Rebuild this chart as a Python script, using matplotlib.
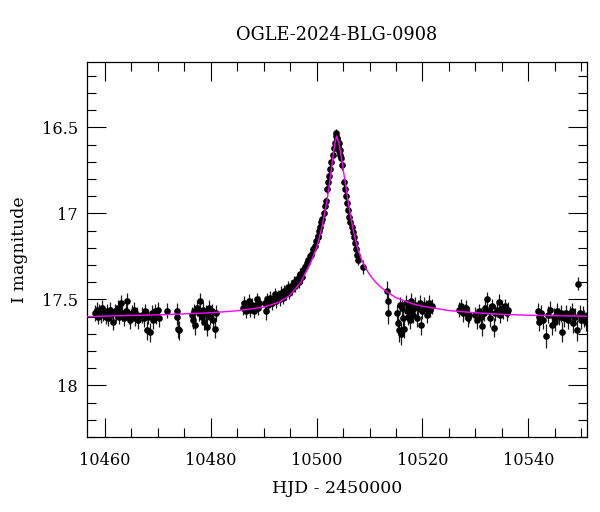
import matplotlib
matplotlib.use("Agg")
import matplotlib.pyplot as plt
from matplotlib.ticker import MultipleLocator, FuncFormatter

title = "OGLE-2024-BLG-0908"
xlabel = "HJD - 2450000"
ylabel = "I magnitude"

hjd = [
    # 10458-10466
    10458.2, 10458.4, 10458.6, 10458.9, 10459.2, 10459.4, 10459.7, 10460.1, 10460.3, 10460.6,
    10461.0, 10461.2, 10461.5, 10461.8, 10462.1, 10462.4, 10462.7, 10463.0, 10463.3, 10463.6,
    10463.9, 10464.2, 10464.5, 10464.8, 10465.1, 10465.4, 10465.7, 10466.0, 10466.3,
    # 10467-10470
    10467.0, 10467.3, 10467.6, 10467.9, 10468.2, 10468.5, 10468.8, 10469.1, 10469.4, 10469.7,
    10470.0, 10470.3,
    10471.8, 10473.6, 10473.7, 10473.8, 10473.9,
    # 10476-10481
    10476.4, 10476.6, 10476.9, 10477.1, 10477.4, 10477.7, 10478.0, 10478.3, 10478.5, 10478.8,
    10479.1, 10479.3, 10479.6, 10479.9, 10480.2, 10480.5, 10480.8, 10481.0,
    # 10486-10489
    10486.0, 10486.3, 10486.6, 10486.9, 10487.2, 10487.5, 10487.8, 10488.1, 10488.4, 10488.7,
    10489.0, 10489.2,
    # 10490-10500
    10490.2, 10490.4, 10490.6, 10490.9, 10491.2, 10491.5, 10491.8, 10492.1, 10492.4, 10492.7,
    10493.0, 10493.3, 10493.6, 10493.9, 10494.2, 10494.5, 10494.8, 10495.1, 10495.4, 10495.7,
    10496.0, 10496.3, 10496.6, 10496.9, 10497.2, 10497.5, 10497.8, 10498.1, 10498.4, 10498.7,
    10499.0, 10499.3, 10499.6, 10499.9, 10500.2,
    # rise to peak
    10500.3, 10500.5, 10500.7, 10500.9, 10501.1, 10501.3, 10501.5, 10501.7, 10502.0, 10502.2,
    10502.4, 10502.6, 10502.8, 10503.0, 10503.2, 10503.4, 10503.6, 10503.7, 10503.8,
    # decline
    10503.9, 10504.0, 10504.1, 10504.2, 10504.3, 10504.4, 10504.5, 10504.6, 10504.8, 10505.2,
    10505.4, 10505.6, 10505.8, 10506.0, 10506.2, 10506.4, 10506.6, 10506.8, 10507.0, 10507.2,
    10507.4, 10507.6, 10507.8, 10508.7,
    # 10513-10522
    10513.3, 10513.4, 10513.5,
    10515.2, 10515.4, 10515.6, 10515.8, 10516.0, 10516.2, 10516.4, 10516.6, 10516.8, 10517.0,
    10517.2, 10517.4, 10517.6, 10517.8, 10518.0, 10518.3, 10518.6, 10518.9, 10519.2, 10519.5,
    10519.7, 10520.0, 10520.3, 10520.6, 10520.9, 10521.2, 10521.5, 10521.8,
    # 10527-10529
    10527.0, 10527.3, 10527.6, 10528.0, 10528.3, 10528.6, 10528.8,
    # 10530-10536
    10530.0, 10530.3, 10530.6, 10531.0, 10531.3, 10531.6, 10531.9, 10532.2, 10532.5, 10532.8,
    10533.1, 10533.5, 10533.8, 10534.1, 10534.4, 10534.7, 10535.0, 10535.3, 10535.6, 10535.9,
    10536.2,
    # 10542-10551
    10541.9, 10542.0, 10542.1, 10542.5, 10542.8, 10543.4, 10543.8, 10544.2, 10544.5, 10544.8,
    10545.1, 10545.4, 10545.8, 10546.1, 10546.4, 10546.8, 10547.1, 10547.5, 10547.8, 10548.2,
    10548.5, 10548.9, 10549.2, 10549.4, 10549.7, 10550.0, 10550.3, 10550.6, 10550.9,
]

imag = [
    17.58, 17.56, 17.60, 17.57, 17.59, 17.55, 17.58, 17.60, 17.57, 17.61,
    17.56, 17.59, 17.63, 17.57, 17.58, 17.55, 17.60, 17.52, 17.58, 17.61,
    17.57, 17.51, 17.60, 17.62, 17.58, 17.56, 17.61, 17.59, 17.62,
    17.59, 17.61, 17.57, 17.68, 17.60, 17.69, 17.58, 17.62, 17.57, 17.60,
    17.56, 17.61,
    17.565, 17.565, 17.60, 17.67, 17.68,
    17.59, 17.62, 17.57, 17.65, 17.55, 17.58, 17.51, 17.60, 17.56, 17.63,
    17.58, 17.66, 17.55, 17.60, 17.57, 17.62, 17.67, 17.58,
    17.55, 17.52, 17.57, 17.54, 17.51, 17.56, 17.53, 17.57, 17.54, 17.50,
    17.55, 17.52,
    17.52, 17.57, 17.50, 17.53, 17.49, 17.52, 17.50, 17.47, 17.51, 17.48,
    17.50, 17.46, 17.49, 17.45, 17.47, 17.43, 17.46, 17.42, 17.44, 17.40,
    17.42, 17.38, 17.40, 17.35, 17.37, 17.33, 17.31, 17.29, 17.27, 17.25,
    17.24, 17.21, 17.19, 17.16, 17.14,
    17.13, 17.10, 17.08, 17.05, 17.03, 17.00, 16.96, 16.93, 16.86, 16.82,
    16.78, 16.74, 16.70, 16.66, 16.62, 16.59, 16.55, 16.53, 16.56,
    16.57, 16.60, 16.62, 16.59, 16.64, 16.66, 16.63, 16.68, 16.72, 16.82,
    16.86, 16.90, 16.94, 16.98, 17.02, 17.05, 17.08, 17.11, 17.14, 17.17,
    17.21, 17.24, 17.27, 17.31,
    17.45, 17.51, 17.58,
    17.58, 17.64, 17.68, 17.53, 17.70, 17.55, 17.61, 17.67, 17.52, 17.57,
    17.60, 17.54, 17.62, 17.51, 17.56, 17.59, 17.53, 17.61, 17.55, 17.52,
    17.65, 17.57, 17.53, 17.55, 17.59, 17.52, 17.56, 17.54,
    17.56, 17.54, 17.58, 17.57, 17.55, 17.61, 17.59,
    17.59, 17.62, 17.57, 17.60, 17.655, 17.58, 17.55, 17.50, 17.57, 17.61,
    17.54, 17.665, 17.58, 17.56, 17.515, 17.59, 17.55, 17.57, 17.54, 17.58,
    17.56,
    17.57, 17.60, 17.63, 17.58, 17.62, 17.715, 17.59, 17.56, 17.65, 17.60,
    17.63, 17.57, 17.60, 17.58, 17.69, 17.61, 17.58, 17.62, 17.59, 17.57,
    17.64, 17.60, 17.68, 17.41, 17.58, 17.62, 17.59, 17.61, 17.63,
]

ierr = [
    0.045, 0.045, 0.045, 0.045, 0.045, 0.045, 0.045, 0.045, 0.045, 0.045,
    0.045, 0.045, 0.05, 0.045, 0.045, 0.045, 0.045, 0.045, 0.045, 0.045,
    0.045, 0.045, 0.045, 0.05, 0.045, 0.045, 0.045, 0.045, 0.05,
    0.045, 0.05, 0.045, 0.055, 0.045, 0.055, 0.045, 0.05, 0.045, 0.045,
    0.045, 0.05,
    0.045, 0.045, 0.05, 0.055, 0.055,
    0.045, 0.05, 0.045, 0.055, 0.045, 0.045, 0.045, 0.05, 0.045, 0.05,
    0.045, 0.055, 0.045, 0.05, 0.045, 0.05, 0.055, 0.045,
    0.04, 0.04, 0.04, 0.04, 0.04, 0.04, 0.04, 0.04, 0.04, 0.04,
    0.04, 0.04,
    0.04, 0.05, 0.04, 0.04, 0.04, 0.04, 0.04, 0.035, 0.04, 0.035,
    0.04, 0.035, 0.035, 0.035, 0.035, 0.035, 0.035, 0.035, 0.035, 0.035,
    0.035, 0.035, 0.035, 0.035, 0.035, 0.035, 0.035, 0.03, 0.03, 0.03,
    0.03, 0.03, 0.03, 0.03, 0.03,
    0.028, 0.028, 0.028, 0.028, 0.028, 0.028, 0.028, 0.028, 0.025, 0.025,
    0.025, 0.025, 0.025, 0.022, 0.022, 0.022, 0.022, 0.022, 0.022,
    0.022, 0.022, 0.022, 0.022, 0.022, 0.022, 0.022, 0.022, 0.025, 0.025,
    0.025, 0.025, 0.025, 0.028, 0.028, 0.028, 0.028, 0.028, 0.03, 0.03,
    0.03, 0.03, 0.032, 0.04,
    0.055, 0.055, 0.065,
    0.05, 0.055, 0.065, 0.045, 0.065, 0.045, 0.05, 0.055, 0.045, 0.045,
    0.05, 0.045, 0.05, 0.045, 0.045, 0.05, 0.045, 0.05, 0.045, 0.045,
    0.055, 0.045, 0.045, 0.045, 0.05, 0.045, 0.045, 0.045,
    0.045, 0.045, 0.05, 0.045, 0.045, 0.05, 0.045,
    0.045, 0.05, 0.045, 0.05, 0.055, 0.045, 0.045, 0.045, 0.045, 0.05,
    0.045, 0.055, 0.045, 0.045, 0.045, 0.05, 0.045, 0.045, 0.045, 0.045,
    0.045,
    0.05, 0.05, 0.055, 0.05, 0.05, 0.07, 0.05, 0.05, 0.055, 0.05,
    0.055, 0.05, 0.05, 0.05, 0.06, 0.05, 0.05, 0.055, 0.05, 0.05,
    0.055, 0.05, 0.06, 0.038, 0.05, 0.055, 0.05, 0.05, 0.055,
]

# model curve
model_t = [10456.6, 10460, 10470, 10480, 10485, 10490, 10493, 10495, 10497, 10498,
           10499, 10500, 10501, 10502, 10502.5, 10503, 10503.4, 10503.8, 10504.2, 10504.6,
           10505.0, 10505.5, 10506.0, 10506.5, 10507.0, 10507.7, 10508.5, 10509.3, 10510,
           10511, 10512, 10513, 10515, 10518, 10520, 10525, 10530, 10535, 10540, 10545, 10551.5]
model_m = [17.600, 17.597, 17.590, 17.578, 17.566, 17.545, 17.515, 17.475, 17.40, 17.34,
           17.275, 17.20, 17.08, 16.92, 16.81, 16.69, 16.60, 16.55, 16.59, 16.66,
           16.74, 16.84, 16.94, 17.03, 17.11, 17.20, 17.27, 17.32, 17.355,
           17.395, 17.425, 17.45, 17.49, 17.525, 17.54, 17.565, 17.578, 17.587, 17.592, 17.595, 17.598]

plt.rcParams['font.family'] = ['DejaVu Serif']

fig = plt.figure(figsize=(6.0, 5.12), dpi=100)
ax = fig.add_axes([87/600, 1 - 437/512, 500/600, 375/512])

ax.errorbar(hjd, imag, yerr=ierr, fmt='o', color='black', ms=4.8, mew=0,
            ecolor='#1a1a1a', elinewidth=0.9, capsize=3.0, capthick=0.9, zorder=2)
ax.plot(model_t, model_m, color='#ff00ff', lw=1.0, zorder=3)

ax.set_xlim(10456.6, 10551.1)
ax.set_ylim(18.3, 16.12)

ax.xaxis.set_major_locator(MultipleLocator(20))
ax.xaxis.set_minor_locator(MultipleLocator(5))
ax.yaxis.set_major_locator(MultipleLocator(0.5))
ax.yaxis.set_minor_locator(MultipleLocator(0.1))
ax.yaxis.set_major_formatter(FuncFormatter(lambda v, p: f"{v:g}"))

ax.tick_params(which='both', direction='in', top=True, right=True, width=0.8, colors='black')
ax.tick_params(which='major', length=13.5)
ax.tick_params(which='minor', length=6.7)
ax.tick_params(axis='x', which='major', pad=11, labelsize=11.6)
ax.tick_params(axis='y', which='major', pad=6.5, labelsize=11.6)
for s in ax.spines.values():
    s.set_linewidth(0.9)

ax.set_xlabel(xlabel, fontsize=12.5, labelpad=8)
ax.set_ylabel(ylabel, fontsize=12.5, labelpad=10)
ax.set_title(title, fontsize=12.8, pad=16)

fig.savefig("out.png", dpi=100)
